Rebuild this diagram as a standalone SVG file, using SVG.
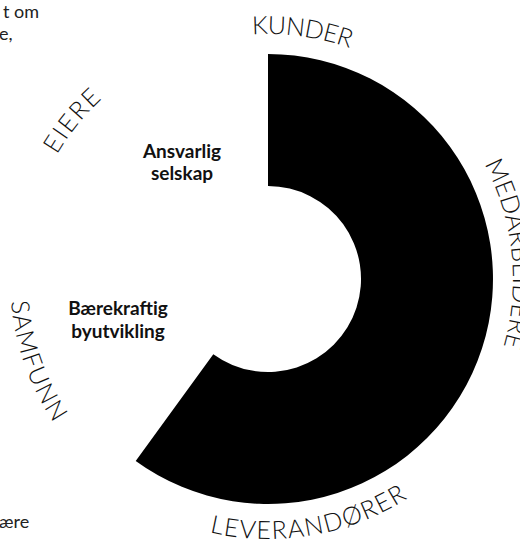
<svg xmlns="http://www.w3.org/2000/svg" xmlns:xlink="http://www.w3.org/1999/xlink" width="520" height="545" viewBox="0 0 520 545">
<style>
.ring{fill:#000}
.arc{font-family:Lato,"Liberation Sans",sans-serif;font-weight:300;font-size:25px;fill:#111}
.mid{font-family:Lato,"Liberation Sans",sans-serif;font-weight:700;font-size:19px;fill:#111;text-anchor:middle}
.edge{font-family:Lato,"Liberation Sans",sans-serif;font-weight:400;font-size:18px;fill:#222}
</style>
<defs>
<path id="pKunder" d="M252.2,34.5 A245,245 0 0 1 349.8,48.1" fill="none"/>
<path id="pMed" d="M484.3,164 A245,245 0 0 1 503.5,346.5" fill="none"/>
<path id="pLev" d="M209.5,532.3 A260,260 0 0 0 407.7,498.3" fill="none"/>
<path id="pSam" d="M11,301.5 A258,258 0 0 0 54.1,423.3" fill="none"/>
<path id="pEiere" d="M56.9,154.7 A245,245 0 0 1 102.5,98.4" fill="none"/>
</defs>
<rect width="520" height="545" fill="#fff"/>
<g id="ring">
<path class="ring" d="M268,54 A225,225 0 1 1 135.7,461 L213.3,354.2 A93,93 0 1 0 268,186 Z"/>
</g>
<g id="kunder"><text class="arc"><textPath xlink:href="#pKunder" href="#pKunder" textLength="99" lengthAdjust="spacing">KUNDER</textPath></text></g>
<g id="medarbeidere"><text class="arc"><textPath xlink:href="#pMed" href="#pMed" textLength="188" lengthAdjust="spacing">MEDARBEIDERE</textPath></text></g>
<g id="leverandorer"><text class="arc"><textPath xlink:href="#pLev" href="#pLev" textLength="206" lengthAdjust="spacing">LEVERANDØRER</textPath></text></g>
<g id="samfunn"><text class="arc"><textPath xlink:href="#pSam" href="#pSam" textLength="130" lengthAdjust="spacing">SAMFUNN</textPath></text></g>
<g id="eiere"><text class="arc"><textPath xlink:href="#pEiere" href="#pEiere" textLength="72" lengthAdjust="spacing">EIERE</textPath></text></g>
<g id="ansvarlig">
<text class="mid" x="182" y="158">Ansvarlig</text>
<text class="mid" x="182" y="180">selskap</text>
</g>
<g id="baerekraftig">
<text class="mid" x="118" y="315">Bærekraftig</text>
<text class="mid" x="118" y="338">byutvikling</text>
</g>
<g id="edge-text">
<text class="edge" x="3" y="18">t om</text>
<text class="edge" x="-1" y="40">e,</text>
<text class="edge" x="-1" y="528">ære</text>
</g>
</svg>
